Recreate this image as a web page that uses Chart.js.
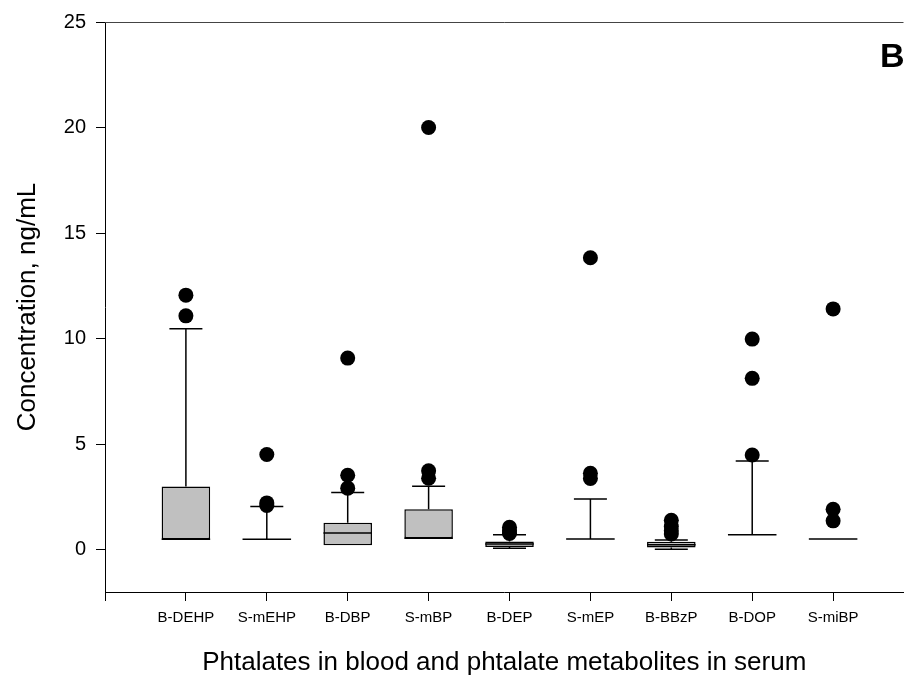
<!DOCTYPE html>
<html>
<head>
<meta charset="utf-8">
<script src="https://cdn.jsdelivr.net/npm/chart.js@4"></script>
<style>
  html, body { margin: 0; padding: 0; background: #fff; }
  #wrap { width: 911px; height: 680px; }
</style>
</head>
<body>
<div id="wrap"><canvas id="box_chart"></canvas></div>
<script>
// categories on the x axis
var categories = ['B-DEHP', 'S-mEHP', 'B-DBP', 'S-mBP', 'B-DEP', 'S-mEP', 'B-BBzP', 'B-DOP', 'S-miBP'];

// box statistics, ng/mL
var q1          = [0.50, 0.50, 0.22, 0.55, 0.13, 0.51, 0.11, 0.71, 0.51];
var median      = [0.50, 0.50, 0.79, 0.55, 0.27, 0.51, 0.24, 0.71, 0.51];
var q3          = [3.00, 0.50, 1.28, 1.92, 0.39, 0.51, 0.38, 0.71, 0.51];
var whiskerLow  = [0.50, 0.50, 0.22, 0.55, 0.07, 0.51, 0.03, 0.71, 0.51];
var whiskerHigh = [10.47, 2.05, 2.71, 3.01, 0.71, 2.40, 0.46, 4.21, 0.51];

// outliers for each category
var outliers = [
    [12.06, 11.08],
    [4.51, 2.22, 2.10],
    [9.08, 3.53, 2.92],
    [20.0, 3.74, 3.39],
    [1.07, 0.90, 0.77],
    [13.83, 3.62, 3.38],
    [1.40, 1.10, 0.90, 0.75],
    [9.98, 8.12, 4.49],
    [11.41, 1.92, 1.37]
];

var yTicks = [0, 5, 10, 15, 20, 25];
var yMin = -2, yMax = 25;
var xMax = 9.87;

var boxData = categories.map(function(c, i) {
    return {x: i + 1, y: [q1[i], q3[i]]};
});
var outlierPoints = [];
outliers.forEach(function(list, i) {
    list.forEach(function(v) { outlierPoints.push({x: i + 1, y: v}); });
});

Chart.defaults.font.family = '"Liberation Sans", Arial, sans-serif';
Chart.defaults.color = '#000';

// whiskers, caps and median lines, drawn right after the boxes
var boxPlotLines = {
    id: 'boxPlotLines',
    afterDatasetDraw: function(chart, args) {
        if (args.meta.type !== 'bar') return;
        var ctx = chart.ctx;
        var y = chart.scales.y;
        ctx.save();
        ctx.lineWidth = 1.5;
        ctx.strokeStyle = '#000';
        args.meta.data.forEach(function(bar, i) {
            var cx = bar.x, half = bar.width / 2, cap = half * 0.68;
            var yq1 = y.getPixelForValue(q1[i]);
            var yq3 = y.getPixelForValue(q3[i]);
            var ylo = y.getPixelForValue(whiskerLow[i]);
            var yhi = y.getPixelForValue(whiskerHigh[i]);
            var ymed = y.getPixelForValue(median[i]);
            ctx.beginPath();
            if (whiskerHigh[i] > q3[i]) {
                ctx.moveTo(cx, yq3); ctx.lineTo(cx, yhi);
                ctx.moveTo(cx - cap, yhi); ctx.lineTo(cx + cap, yhi);
            }
            if (whiskerLow[i] < q1[i]) {
                ctx.moveTo(cx, yq1); ctx.lineTo(cx, ylo);
                ctx.moveTo(cx - cap, ylo); ctx.lineTo(cx + cap, ylo);
            }
            ctx.moveTo(cx - half, ymed); ctx.lineTo(cx + half, ymed);
            ctx.stroke();
        });
        ctx.restore();
    },
    afterDraw: function(chart) {
        var ctx = chart.ctx, a = chart.chartArea;
        ctx.save();
        ctx.strokeStyle = '#444';
        ctx.lineWidth = 1;
        ctx.beginPath();
        ctx.moveTo(a.left, a.top + 0.5);
        ctx.lineTo(a.right, a.top + 0.5);
        ctx.stroke();
        ctx.fillStyle = '#000';
        ctx.font = 'bold 34px "Liberation Sans", Arial, sans-serif';
        ctx.textAlign = 'right';
        ctx.textBaseline = 'alphabetic';
        ctx.fillText('B', a.right + 1, a.top + 45);
        ctx.restore();
    }
};

var ctx = document.getElementById('box_chart');
var chartBox = new Chart(ctx, {
    type: 'bar',
    data: {
        datasets: [
            {
                type: 'scatter',
                data: outlierPoints,
                pointRadius: 7.5,
                pointHoverRadius: 7.5,
                backgroundColor: '#000',
                borderWidth: 0
            },
            {
                type: 'bar',
                data: boxData,
                backgroundColor: '#c0c0c0',
                borderColor: '#000',
                borderWidth: 1.5,
                borderSkipped: false,
                barPercentage: 0.6,
                categoryPercentage: 1
            }
        ]
    },
    options: {
        responsive: true,
        maintainAspectRatio: false,
        animation: false,
        events: [],
        layout: { padding: { top: 22, right: 0, left: 0, bottom: 0 } },
        plugins: {
            legend: { display: false },
            tooltip: { enabled: false }
        },
        scales: {
            x: {
                type: 'linear',
                min: 0,
                max: xMax,
                offset: false,
                afterBuildTicks: function(scale) {
                    scale.ticks = [0].concat(categories.map(function(c, i) { return i + 1; }))
                        .map(function(v) { return {value: v}; });
                },
                afterFit: function(scale) { scale.height = 88; },
                ticks: {
                    autoSkip: false,
                    maxRotation: 0,
                    padding: 8,
                    font: { size: 15 },
                    callback: function(value) { return categories[value - 1] || ''; }
                },
                grid: {
                    display: true,
                    offset: false,
                    drawOnChartArea: false,
                    drawTicks: true,
                    tickLength: 9,
                    tickWidth: 1,
                    tickColor: '#000'
                },
                border: { display: true, color: '#000', width: 1 },
                title: {
                    display: true,
                    text: 'Phtalates in blood and phtalate metabolites in serum',
                    font: { size: 26 },
                    padding: { top: 0, bottom: 2 }
                }
            },
            y: {
                min: yMin,
                max: yMax,
                afterBuildTicks: function(scale) {
                    scale.ticks = yTicks.map(function(v) { return {value: v}; });
                },
                afterFit: function(scale) { scale.width = 105; },
                ticks: {
                    padding: 10,
                    font: { size: 20 }
                },
                grid: {
                    display: true,
                    drawOnChartArea: false,
                    drawTicks: true,
                    tickLength: 9,
                    tickWidth: 1,
                    tickColor: '#000'
                },
                border: { display: true, color: '#000', width: 1 },
                title: {
                    display: true,
                    text: 'Concentration, ng/mL',
                    font: { size: 26 },
                    padding: { top: 12, bottom: 0 }
                }
            }
        }
    },
    plugins: [boxPlotLines]
});
</script>
</body>
</html>
